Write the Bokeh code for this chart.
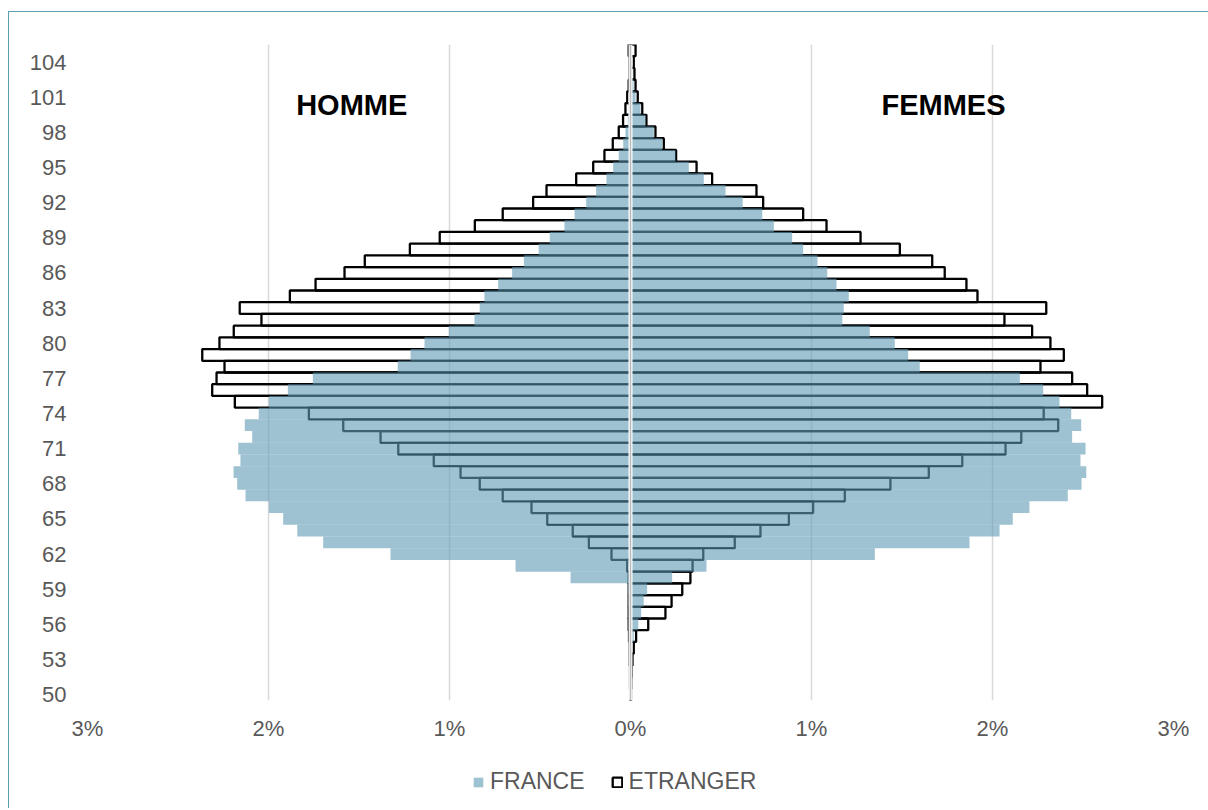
from bokeh.plotting import figure
from bokeh.layouts import column
from bokeh.models import Span, Label, Legend, LegendItem, FixedTicker
from bokeh.embed import file_html
from bokeh.resources import INLINE

# ---------------- data ----------------
ages = [50, 51, 52, 53, 54, 55, 56, 57, 58, 59,
        60, 61, 62, 63, 64, 65, 66, 67, 68, 69,
        70, 71, 72, 73, 74, 75, 76, 77, 78, 79,
        80, 81, 82, 83, 84, 85, 86, 87, 88, 89,
        90, 91, 92, 93, 94, 95, 96, 97, 98, 99,
        100, 101, 102, 103, 104, 105]

# share of population (%) - men (HOMME), plotted to the left
france_homme = [0.001, 0.002, 0.002, 0.003, 0.004, 0.005, 0.006, 0.008, 0.010, 0.012,
                0.331, 0.635, 1.326, 1.698, 1.841, 1.919, 1.998, 2.127, 2.173, 2.193,
                2.155, 2.167, 2.090, 2.131, 2.054, 1.998, 1.893, 1.755, 1.286, 1.215,
                1.138, 1.004, 0.862, 0.833, 0.807, 0.731, 0.654, 0.589, 0.507, 0.446,
                0.365, 0.309, 0.245, 0.190, 0.133, 0.096, 0.065, 0.040, 0.028, 0.015,
                0.010, 0.005, 0.003, 0.002, 0.001, 0.000]
etranger_homme = [0.002, 0.003, 0.003, 0.005, 0.005, 0.008, 0.010, 0.010, 0.010, 0.010,
                  0.010, 0.018, 0.105, 0.230, 0.319, 0.460, 0.547, 0.706, 0.833, 0.939,
                  1.087, 1.283, 1.381, 1.587, 1.777, 2.186, 2.311, 2.287, 2.243, 2.366,
                  2.271, 2.192, 2.039, 2.159, 1.882, 1.740, 1.580, 1.468, 1.219, 1.054,
                  0.860, 0.706, 0.538, 0.464, 0.300, 0.206, 0.144, 0.098, 0.065, 0.041,
                  0.028, 0.018, 0.010, 0.005, 0.005, 0.010]

# women (FEMMES), plotted to the right
france_femmes = [0.001, 0.002, 0.003, 0.005, 0.008, 0.018, 0.043, 0.059, 0.073, 0.092,
                 0.230, 0.420, 1.350, 1.873, 2.039, 2.112, 2.204, 2.416, 2.492, 2.518,
                 2.486, 2.514, 2.440, 2.490, 2.435, 2.370, 2.280, 2.151, 1.598, 1.534,
                 1.460, 1.322, 1.170, 1.178, 1.206, 1.138, 1.087, 1.033, 0.954, 0.893,
                 0.792, 0.728, 0.620, 0.525, 0.405, 0.322, 0.249, 0.175, 0.129, 0.083,
                 0.055, 0.028, 0.017, 0.010, 0.005, 0.003]
etranger_femmes = [0.003, 0.005, 0.007, 0.011, 0.018, 0.031, 0.098, 0.193, 0.227, 0.286,
                   0.331, 0.343, 0.402, 0.576, 0.718, 0.875, 1.009, 1.184, 1.436, 1.648,
                   1.833, 2.072, 2.159, 2.363, 2.283, 2.606, 2.523, 2.440, 2.265, 2.394,
                   2.320, 2.219, 2.066, 2.297, 1.917, 1.856, 1.736, 1.667, 1.488, 1.271,
                   1.083, 0.954, 0.733, 0.696, 0.451, 0.365, 0.252, 0.184, 0.138, 0.088,
                   0.065, 0.040, 0.028, 0.022, 0.018, 0.028]

age_ticks = [50, 53, 56, 59, 62, 65, 68, 71, 74, 77, 80, 83, 86, 89, 92, 95, 98, 101, 104]
pct_ticks = [-3, -2, -1, 0, 1, 2, 3]
pct_labels = ["3%", "2%", "1%", "0%", "1%", "2%", "3%"]
series_names = ["FRANCE", "ETRANGER"]
side_titles = ["HOMME", "FEMMES"]

# ---------------- styles ----------------
FONT = "Liberation Sans"
TXT = "#595959"
BLUE = "#629db4"
BLUE_ALPHA = 0.62
GRID = "#d9d9d9"
FR_STYLE = dict(fill_color=BLUE, fill_alpha=BLUE_ALPHA, line_color=None)
ET_STYLE = dict(fill_color=None, line_color="black", line_width=2.3)

p = figure(frame_width=1086, frame_height=656,
           min_border_left=78, min_border_right=35,
           min_border_top=32, min_border_bottom=48,
           x_range=(-3, 3), y_range=(49.5, 105.5),
           output_backend="svg", toolbar_location=None)
p.outline_line_color = None
p.background_fill_color = "white"
p.border_fill_color = "white"

# axes
p.xaxis.ticker = FixedTicker(ticks=pct_ticks)
p.xaxis.major_label_overrides = {t: l for t, l in zip(pct_ticks, pct_labels)}
p.yaxis.ticker = FixedTicker(ticks=age_ticks)
for ax in (p.xaxis[0], p.yaxis[0]):
    ax.axis_line_color = None
    ax.major_tick_line_color = None
    ax.minor_tick_line_color = None
    ax.major_tick_out = 0
    ax.major_tick_in = 0
    ax.major_label_text_font = FONT
    ax.major_label_text_font_size = "22px"
    ax.major_label_text_color = TXT
p.xaxis.major_label_standoff = 15
p.yaxis.major_label_standoff = 21

p.xgrid.ticker = FixedTicker(ticks=pct_ticks)
p.xgrid.grid_line_color = GRID
p.xgrid.grid_line_width = 1.5
p.ygrid.grid_line_color = None

neg_et = [-v for v in etranger_homme]
neg_fr = [-v for v in france_homme]

# ETRANGER: outlined, no fill
p.hbar(y=ages, left=neg_et, right=0, height=1, **ET_STYLE)
p.hbar(y=ages, left=0, right=etranger_femmes, height=1, **ET_STYLE)
# FRANCE: semi-transparent fill drawn on top
p.hbar(y=ages, left=neg_fr, right=0, height=1, **FR_STYLE)
p.hbar(y=ages, left=0, right=france_femmes, height=1, **FR_STYLE)

# zero line
p.add_layout(Span(location=0, dimension="height", line_color="white",
                  line_width=4, level="overlay"))
p.add_layout(Span(location=0, dimension="height", line_color="#bdbdbd",
                  line_width=1.6, level="overlay"))

# side titles
p.add_layout(Label(x=-1.54, y=100.3, text=side_titles[0], text_font=FONT,
                   text_font_size="29px", text_font_style="bold",
                   text_color="black", text_align="center", text_baseline="middle"))
p.add_layout(Label(x=1.729, y=100.3, text=side_titles[1], text_font=FONT,
                   text_font_size="29px", text_font_style="bold",
                   text_color="black", text_align="center", text_baseline="middle"))

# ---------------- legend strip ----------------
# hidden copies of the series provide the legend glyphs of this strip
pl = figure(width=1199, height=60, min_border=0,
            x_range=(-3, 3), y_range=(0, 1),
            x_axis_location=None, y_axis_location=None,
            output_backend="svg", toolbar_location=None)
pl.outline_line_color = None
pl.grid.visible = False
pl.background_fill_color = "white"
pl.border_fill_color = "white"
lg_fr = pl.hbar(y=ages, left=0, right=france_femmes, height=1, **FR_STYLE)
lg_et = pl.hbar(y=ages, left=0, right=etranger_femmes, height=1, **ET_STYLE)
lg_fr.visible = False
lg_et.visible = False

legend = Legend(items=[LegendItem(label=series_names[0], renderers=[lg_fr]),
                       LegendItem(label=series_names[1], renderers=[lg_et])],
                location=(385, 13), orientation="horizontal",
                label_text_font=FONT, label_text_font_size="23px",
                label_text_color=TXT, glyph_width=12, glyph_height=12,
                label_standoff=6, spacing=26, padding=0, margin=0,
                inactive_fill_alpha=0,
                border_line_color=None, background_fill_alpha=0)
pl.add_layout(legend, "center")

layout = column(p, pl, spacing=0)
layout.styles = {"margin-left": "8px", "margin-top": "11px",
                 "border-left": "1px solid #5b9db2", "border-top": "1px solid #5b9db2"}

open("out.html", "w").write(file_html(layout, INLINE))
